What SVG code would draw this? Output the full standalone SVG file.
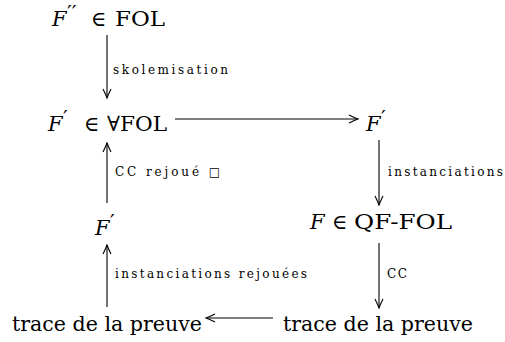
<svg xmlns="http://www.w3.org/2000/svg" width="505" height="342" viewBox="0 0 505 342">
<style>
.m{font-family:'DejaVu Serif',serif;font-size:21px;fill:#000}
.i{font-style:italic}
.p{font-size:21px}
.l{font-family:'DejaVu Serif',serif;font-size:12px;fill:#000}
.c{stroke:#000;stroke-width:1.1;fill:none}
</style>
<defs>
<marker id="a" markerWidth="12" markerHeight="10" refX="10" refY="5" orient="auto" markerUnits="userSpaceOnUse">
<path d="M1 1 Q6 3.5 10 5 Q6 6.5 1 9" fill="none" stroke="#000" stroke-width="1.1"/>
</marker>
</defs>
<rect width="505" height="342" fill="#fff"/>
<g id="n1"><text class="m" y="26"><tspan class="i" x="52">F</tspan><tspan class="p" x="67" dy="-6">′′</tspan><tspan x="91" dy="6">∈</tspan><tspan x="115" textLength="50" lengthAdjust="spacingAndGlyphs">FOL</tspan></text></g>
<g id="n2"><text class="m" y="131"><tspan class="i" x="48">F</tspan><tspan class="p" x="63" dy="-6">′</tspan><tspan x="84" dy="6">∈</tspan><tspan x="107" textLength="60" lengthAdjust="spacingAndGlyphs">∀FOL</tspan></text></g>
<g id="n3"><text class="m" y="131"><tspan class="i" x="366">F</tspan><tspan class="p" x="381" dy="-6">′</tspan></text></g>
<g id="n4"><text class="m" y="235"><tspan class="i" x="95">F</tspan><tspan class="p" x="110" dy="-6">′</tspan></text></g>
<g id="n5"><text class="m" y="229"><tspan class="i" x="310">F</tspan><tspan x="332">∈</tspan><tspan x="354" textLength="98" lengthAdjust="spacingAndGlyphs">QF-FOL</tspan></text></g>
<g id="n6"><text class="m" x="12" y="331" textLength="190" lengthAdjust="spacingAndGlyphs">trace de la preuve</text></g>
<g id="n7"><text class="m" x="283" y="331" textLength="190" lengthAdjust="spacingAndGlyphs">trace de la preuve</text></g>
<g id="edges">
<line class="c" x1="107" y1="35" x2="107" y2="98" marker-end="url(#a)"/>
<line class="c" x1="175" y1="119" x2="358" y2="119" marker-end="url(#a)"/>
<line class="c" x1="379" y1="140" x2="379" y2="205" marker-end="url(#a)"/>
<line class="c" x1="107" y1="203" x2="107" y2="143" marker-end="url(#a)"/>
<line class="c" x1="379" y1="243" x2="379" y2="308" marker-end="url(#a)"/>
<line class="c" x1="107" y1="307" x2="107" y2="245" marker-end="url(#a)"/>
<line class="c" x1="273" y1="318" x2="206" y2="318" marker-end="url(#a)"/>
<text class="l" x="113" y="74" textLength="115" lengthAdjust="spacing">skolemisation</text>
<text class="l" x="115" y="176" textLength="105" lengthAdjust="spacing">CC rejoué □</text>
<text class="l" x="388" y="176" textLength="115" lengthAdjust="spacing">instanciations</text>
<text class="l" x="115" y="278" textLength="192" lengthAdjust="spacing">instanciations rejouées</text>
<text class="l" x="387" y="278" letter-spacing="1.5">CC</text>
</g>
</svg>
